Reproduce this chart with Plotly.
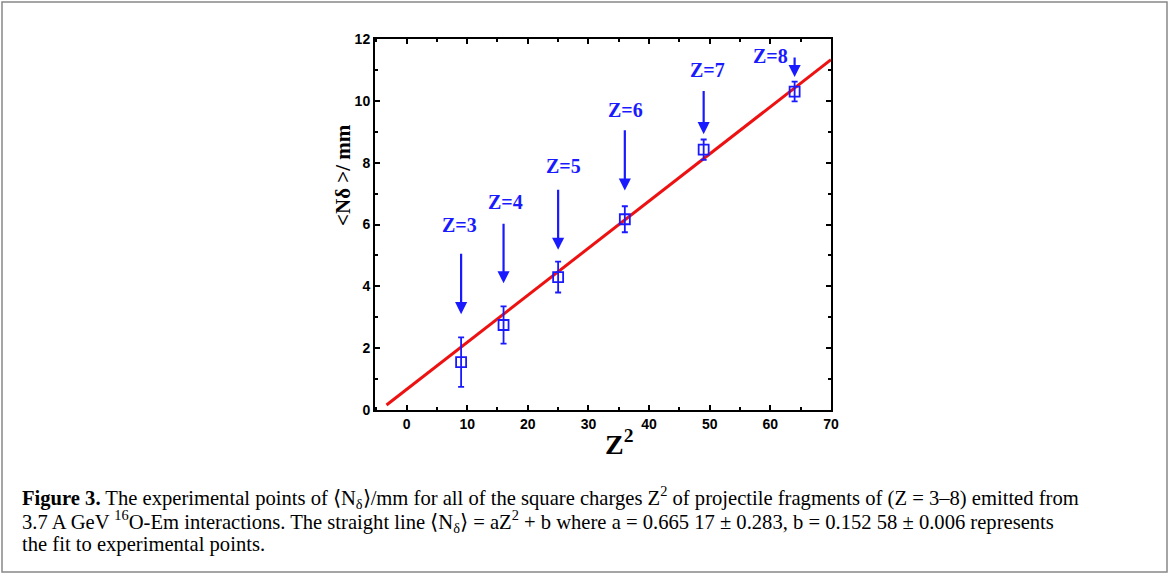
import plotly.graph_objects as go

# ---- data ----
z_labels = ["Z=3", "Z=4", "Z=5", "Z=6", "Z=7", "Z=8"]
z_squared = [9, 16, 25, 36, 49, 64]
n_delta = [1.55, 2.75, 4.30, 6.17, 8.42, 10.30]
n_delta_err = [0.80, 0.60, 0.50, 0.42, 0.33, 0.32]

fit_x = [-3.3, 70]
fit_y = [0.16, 11.33]

# arrow tails / tips (data coords) and label positions
arrow_tail_y = [5.10, 6.07, 7.17, 9.10, 10.37, 11.45]
arrow_tip_y = [3.10, 4.10, 5.18, 7.10, 8.92, 10.77]
label_x = [8.8, 16.4, 25.9, 36.1, 49.6, 60.1]
label_y = [5.97, 6.72, 7.90, 9.70, 11.00, 11.45]

x_ticks = [0, 10, 20, 30, 40, 50, 60, 70]
y_ticks = [0, 2, 4, 6, 8, 10, 12]

# ---- layout geometry ----
W, H = 1170, 575
L, R, T, B = 375, 339, 39, 165
PW, PH = W - L - R, H - T - B


def px(x):
    return (x - L) / PW


def py(y):
    return (H - B - y) / PH


BLUE = "#1a1aff"

fig = go.Figure()
fig.add_trace(go.Scatter(x=fit_x, y=fit_y, mode="lines",
                         line=dict(color="#ee1111", width=3),
                         showlegend=False, hoverinfo="skip"))
fig.add_trace(go.Scatter(
    x=z_squared, y=n_delta, mode="markers",
    marker=dict(symbol="square-open", size=10, color=BLUE, line=dict(width=1.8, color=BLUE)),
    error_y=dict(type="data", array=n_delta_err, color=BLUE, thickness=1.8, width=3),
    showlegend=False))

annotations = []
for zx, ty, hy in zip(z_squared, arrow_tail_y, arrow_tip_y):
    annotations.append(dict(x=zx, y=hy, ax=zx, ay=ty, xref="x", yref="y",
                            axref="x", ayref="y", text="", showarrow=True,
                            arrowhead=2, arrowsize=1.1, arrowwidth=2.2,
                            arrowcolor=BLUE, standoff=0, startstandoff=0))
for lab, lx, ly in zip(z_labels, label_x, label_y):
    annotations.append(dict(x=lx, y=ly, xref="x", yref="y", text=f"<b>{lab}</b>",
                            showarrow=False, xanchor="center", yanchor="middle",
                            font=dict(family="Liberation Serif", size=20, color=BLUE)))

# axis titles
annotations.append(dict(x=px(343), y=py(175), xref="paper", yref="paper",
                        xanchor="center", yanchor="middle",
                        text="<b>&lt;Nδ &gt;/ mm</b>", textangle=-90, showarrow=False,
                        font=dict(family="Liberation Serif", size=21, color="black")))
annotations.append(dict(x=px(619), y=py(442), xref="paper", yref="paper",
                        xanchor="center", yanchor="middle",
                        text="<b>Z<sup>2</sup></b>", showarrow=False,
                        font=dict(family="Liberation Serif", size=28, color="black")))

# caption
cap_font = dict(family="Liberation Serif", size=20.6, color="black")
caption = [
    "<b>Figure 3.</b> The experimental points of ⟨N<sub>δ</sub>⟩/mm for all of the square charges "
    "Z<sup>2</sup> of projectile fragments of (Z = 3–8) emitted from",
    "3.7 A GeV <sup>16</sup>O-Em interactions. The straight line ⟨N<sub>δ</sub>⟩ = aZ<sup>2</sup> + b "
    "where a = 0.665 17 ± 0.283, b = 0.152 58 ± 0.006 represents",
    "the fit to experimental points.",
]
for i, line in enumerate(caption):
    annotations.append(dict(x=px(20), y=py(498 + 23 * i), xref="paper", yref="paper",
                            xanchor="left", yanchor="middle", text=line, showarrow=False,
                            font=cap_font))

shapes = [dict(type="rect", xref="paper", yref="paper",
               x0=px(2), x1=px(1167), y0=py(572), y1=py(2),
               line=dict(color="#888888", width=1.5), fillcolor="rgba(0,0,0,0)", layer="below")]

axis_common = dict(showline=True, linecolor="black", linewidth=2, mirror="ticks",
                   ticks="inside", ticklen=5, tickwidth=1.5, tickcolor="black",
                   showgrid=False, zeroline=False,
                   tickfont=dict(family="Liberation Sans", size=14, color="black"))

fig.update_layout(
    width=W, height=H, margin=dict(l=L, r=R, t=T, b=B),
    paper_bgcolor="white", plot_bgcolor="white",
    xaxis=dict(range=[-5.2, 70], tickvals=x_ticks,
               ticktext=[f"<b>{v}</b>" for v in x_ticks],
               minor=dict(ticks="inside", ticklen=3, tickwidth=1.5, dtick=5, tick0=5, tickcolor="black"),
               **axis_common),
    yaxis=dict(range=[0, 12], tickvals=y_ticks,
               ticktext=[f"<b>{v}</b>" for v in y_ticks],
               minor=dict(ticks="inside", ticklen=3, tickwidth=1.5, dtick=1, tick0=1, tickcolor="black"),
               **axis_common),
    annotations=annotations, shapes=shapes, showlegend=False,
)

fig.write_html("out.html")
